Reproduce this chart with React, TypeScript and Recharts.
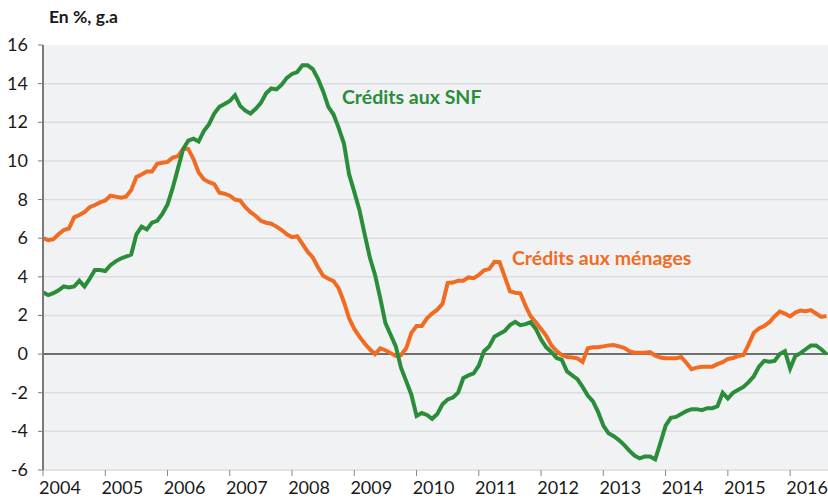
import { CartesianGrid, Line, LineChart, ReferenceLine, XAxis, YAxis } from "recharts";

// monthly growth rates, Jan 2004 -> Aug 2016
const years = ["2004", "2005", "2006", "2007", "2008", "2009", "2010", "2011", "2012", "2013", "2014", "2015", "2016"];
const yTicks = [-6, -4, -2, 0, 2, 4, 6, 8, 10, 12, 14, 16];

const snf = [
  3.2, 3.05, 3.15, 3.3, 3.5, 3.45, 3.5, 3.8, 3.5, 3.9, 4.35, 4.35,
  4.3, 4.6, 4.8, 4.95, 5.05, 5.15, 6.2, 6.6, 6.45, 6.8, 6.9, 7.25,
  7.75, 8.6, 9.6, 10.6, 11.05, 11.15, 11.0, 11.55, 11.9, 12.45, 12.8, 12.95,
  13.1, 13.4, 12.85, 12.6, 12.45, 12.7, 13.0, 13.5, 13.75, 13.7, 13.95, 14.3,
  14.5, 14.6, 14.95, 14.95, 14.75, 14.25, 13.6, 12.8, 12.4, 11.7, 10.9, 9.3,
  8.4, 7.45, 6.2, 5.0, 4.1, 2.9, 1.6, 1.0, 0.4, -0.7, -1.4, -2.1,
  -3.2, -3.05, -3.15, -3.35, -3.1, -2.6, -2.35, -2.25, -2.0, -1.25, -1.1, -1.0,
  -0.6, 0.15, 0.4, 0.9, 1.05, 1.2, 1.5, 1.67, 1.5, 1.55, 1.65, 1.3,
  0.75, 0.35, 0.1, -0.2, -0.3, -0.9, -1.1, -1.3, -1.7, -2.15, -2.45, -3.0,
  -3.7, -4.1, -4.25, -4.45, -4.7, -5.0, -5.25, -5.4, -5.3, -5.3, -5.45, -4.6,
  -3.7, -3.3, -3.25, -3.1, -2.95, -2.85, -2.85, -2.9, -2.8, -2.8, -2.7, -2.0,
  -2.3, -2.0, -1.85, -1.7, -1.45, -1.15, -0.65, -0.35, -0.4, -0.35, 0.0, 0.15,
  -0.75, -0.1, 0.05, 0.25, 0.45, 0.45, 0.25, 0.0,
];

const menages = [
  6.0, 5.9, 5.95, 6.2, 6.42, 6.5, 7.08, 7.2, 7.35, 7.6, 7.72, 7.85,
  7.95, 8.2, 8.15, 8.1, 8.15, 8.5, 9.17, 9.3, 9.45, 9.45, 9.85, 9.9,
  9.95, 10.17, 10.25, 10.62, 10.62, 10.1, 9.4, 9.05, 8.9, 8.8, 8.35, 8.3,
  8.2, 8.0, 7.95, 7.6, 7.35, 7.15, 6.9, 6.8, 6.75, 6.6, 6.42, 6.2,
  6.05, 6.1, 5.7, 5.3, 5.0, 4.5, 4.05, 3.9, 3.78, 3.4, 2.7, 1.85,
  1.3, 0.9, 0.55, 0.25, 0.0, 0.3, 0.2, 0.05, -0.1, -0.05, 0.3, 1.1,
  1.45, 1.45, 1.85, 2.1, 2.3, 2.6, 3.68, 3.7, 3.8, 3.8, 3.97, 3.93,
  4.1, 4.34, 4.4, 4.78, 4.76, 4.0, 3.25, 3.18, 3.15, 2.5, 1.95, 1.65,
  1.3, 0.95, 0.45, 0.15, -0.05, -0.15, -0.18, -0.22, -0.4, 0.3, 0.35, 0.35,
  0.4, 0.45, 0.47, 0.4, 0.32, 0.15, 0.07, 0.07, 0.07, 0.1, -0.08, -0.18,
  -0.22, -0.22, -0.22, -0.15, -0.45, -0.78, -0.7, -0.66, -0.66, -0.65, -0.52, -0.42,
  -0.25, -0.2, -0.1, -0.05, 0.5, 1.1, 1.33, 1.45, 1.65, 1.95, 2.2, 2.1,
  1.95, 2.15, 2.25, 2.22, 2.28, 2.1, 1.92, 1.97,
];

const data = snf.map((v, i) => ({ m: i, snf: v, menages: menages[i] }));
const xTicks = years.map((_, i) => i * 12);

const GREEN = "#2a8d3a";
const ORANGE = "#f26b22";
const FONT = "Lato, 'Open Sans', sans-serif";

function XTick({ x, y, payload }: any) {
  return (
    <text x={x + 17} y={y + 16} textAnchor="middle" fontSize={18} fill="#1a1a1a" fontFamily={FONT}>
      {years[payload.value / 12]}
    </text>
  );
}

function YTick({ y, payload }: any) {
  return (
    <text x={28} y={y + 6} textAnchor="end" fontSize={18} fill="#1a1a1a" fontFamily={FONT}>
      {payload.value}
    </text>
  );
}

export default function App() {
  return (
    <div style={{ position: "relative", width: 828, height: 498, background: "#fff", fontFamily: FONT }}>
      <style>{`body{margin:0}`}</style>
      <LineChart width={828} height={498} data={data} margin={{ top: 45, right: 0, left: 0, bottom: 0 }}>
        <CartesianGrid
          vertical={false}
          stroke="#dcdde1"
          strokeWidth={1.5}
          fill="#f1f2f4"
          horizontalValues={[-6, -4, -2, 2, 4, 6, 8, 10, 12, 14]}
        />
        <XAxis
          type="number"
          dataKey="m"
          domain={[0, 151.3]}
          ticks={xTicks}
          axisLine={false}
          tickLine={{ stroke: "#888" }}
          tickSize={6}
          height={28}
          tick={<XTick />}
          interval={0}
          allowDataOverflow
        />
        <YAxis
          domain={[-6, 16]}
          ticks={yTicks}
          width={43}
          axisLine={{ stroke: "#7a7a7a", strokeWidth: 2 }}
          tickLine={{ stroke: "#7a7a7a" }}
          tickSize={5}
          tick={<YTick />}
          interval={0}
        />
        <ReferenceLine y={0} stroke="#6e6e6e" strokeWidth={2} />
        <Line type="linear" dataKey="menages" stroke={ORANGE} strokeWidth={4} dot={false} isAnimationActive={false} />
        <Line type="linear" dataKey="snf" stroke={GREEN} strokeWidth={4} dot={false} isAnimationActive={false} />
      </LineChart>
      <svg width={828} height={498} style={{ position: "absolute", left: 0, top: 0, pointerEvents: "none" }}>
        <text x={49} y={23} fontSize={17.5} fontWeight={700} fill="#1a1a1a" fontFamily={FONT}>
          En %, g.a
        </text>
        <text x={342} y={104} fontSize={19.5} fontWeight={700} fill={GREEN} fontFamily={FONT}>
          Crédits aux SNF
        </text>
        <text x={512} y={265} fontSize={19.5} fontWeight={700} fill={ORANGE} fontFamily={FONT}>
          Crédits aux ménages
        </text>
      </svg>
    </div>
  );
}
